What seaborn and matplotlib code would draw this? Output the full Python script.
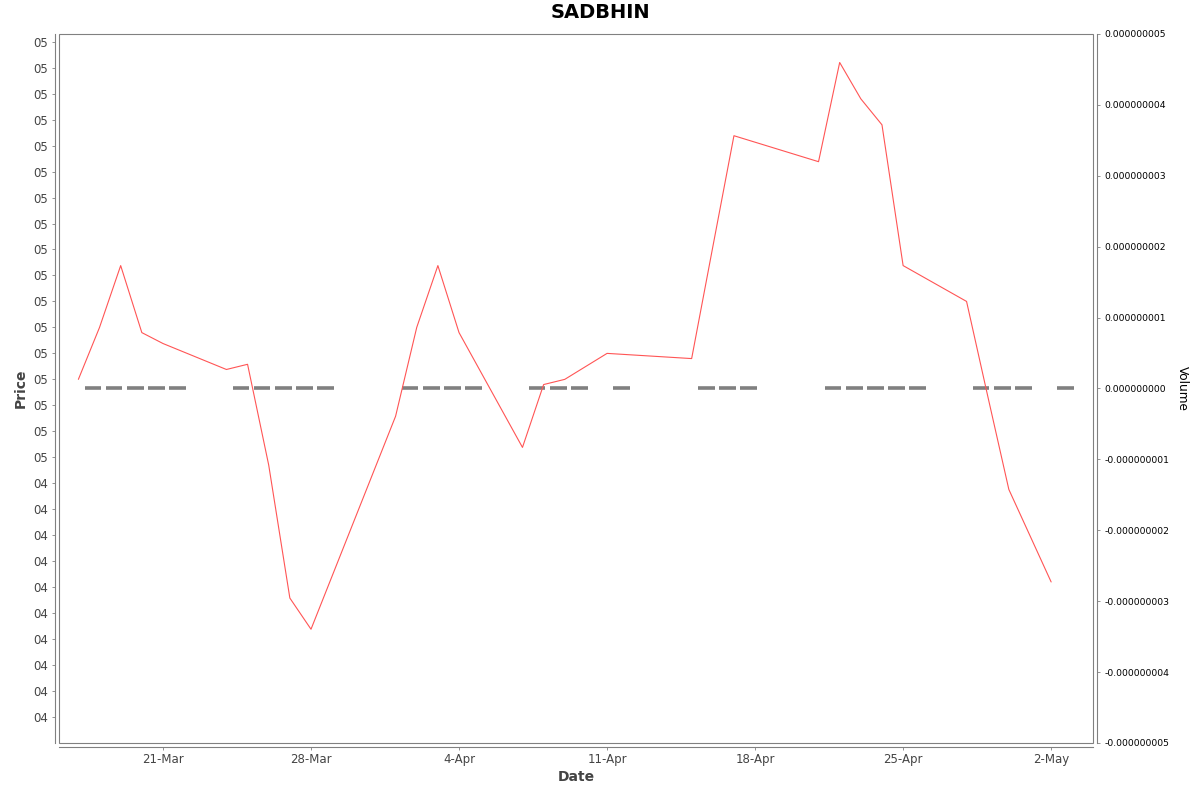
import matplotlib
matplotlib.use("Agg")
import matplotlib.pyplot as plt
import matplotlib.dates as mdates
from matplotlib.patches import Rectangle
import pandas as pd
import seaborn as sns

# trading days (2025) and closing prices
dates = ["2025-03-17", "2025-03-18", "2025-03-19", "2025-03-20", "2025-03-21",
         "2025-03-24", "2025-03-25", "2025-03-26", "2025-03-27", "2025-03-28",
         "2025-04-01", "2025-04-02", "2025-04-03", "2025-04-04", "2025-04-07",
         "2025-04-08", "2025-04-09", "2025-04-11", "2025-04-15", "2025-04-16",
         "2025-04-17", "2025-04-21", "2025-04-22", "2025-04-23", "2025-04-24",
         "2025-04-25", "2025-04-28", "2025-04-29", "2025-04-30", "2025-05-02"]
price = [0.0470, 0.0480, 0.04919, 0.0479, 0.04769,
         0.04719, 0.04729, 0.04535, 0.04279, 0.04219,
         0.04629, 0.0480, 0.04919, 0.0479, 0.04569,
         0.0469, 0.0470, 0.0475, 0.0474, 0.04955,
         0.05169, 0.05119, 0.0531, 0.0524, 0.0519,
         0.04919, 0.0485, 0.04668, 0.04488, 0.0431]
volume = [0] * len(dates)

price_ticks = [0.0405, 0.0410, 0.0415, 0.0420, 0.0425, 0.0430, 0.0435, 0.0440, 0.0445,
               0.0450, 0.0455, 0.0460, 0.0465, 0.0470, 0.0475, 0.0480, 0.0485, 0.0490,
               0.0495, 0.0500, 0.0505, 0.0510, 0.0515, 0.0520, 0.0525, 0.0530, 0.0535]
price_tick_labels = ["04"] * 10 + ["05"] * 17
volume_ticks = [-5e-9, -4e-9, -3e-9, -2e-9, -1e-9, 0, 1e-9, 2e-9, 3e-9, 4e-9, 5e-9]

df = pd.DataFrame({"Date": pd.to_datetime(dates), "Price": price, "Volume": volume})

sns.set_style("white")
plt.rcParams["font.family"] = ["DejaVu Sans"]

GRAY = "#808080"
TXT = "#444444"

fig = plt.figure(figsize=(12, 7.92), dpi=100)
ax = fig.add_axes([59 / 1200, 1 - 743 / 792, (1093 - 59) / 1200, (743 - 34) / 792])
ax2 = ax.twinx()

# volume bars (all zero -> flat dashes)
ax2.bar(df["Date"] + pd.Timedelta(hours=7), df["Volume"], width=pd.Timedelta(hours=19),
        align="edge", color=GRAY, edgecolor=GRAY, linewidth=2.6)

sns.lineplot(data=df, x="Date", y="Price", ax=ax, color="#ff5555", linewidth=0.8)

ax.set_zorder(ax2.get_zorder() + 1)
ax.patch.set_visible(False)

ax.set_xlim(pd.Timestamp("2025-03-16 02:00"), pd.Timestamp("2025-05-03 23:30"))
ax.set_ylim(0.040, 0.053648)
ax.set_yticks(price_ticks)
ax.set_yticklabels(price_tick_labels)
ax2.set_ylim(-5e-9, 5e-9)
ax2.set_yticks(volume_ticks)
ax2.set_yticklabels([f"{v:.9f}" for v in volume_ticks])

ax.xaxis.set_major_locator(mdates.WeekdayLocator(byweekday=mdates.FR))
ax.xaxis.set_major_formatter(plt.FuncFormatter(
    lambda v, p: f"{mdates.num2date(v).day}-{mdates.num2date(v):%b}"))

# outline of the plot area plus offset axis lines
ax.add_patch(Rectangle((0, 0), 1, 1, transform=ax.transAxes, fill=False,
                       edgecolor=GRAY, linewidth=0.8, clip_on=False, zorder=5))
for a in (ax, ax2):
    for s in a.spines.values():
        s.set_visible(False)
for s in ("left", "bottom"):
    ax.spines[s].set_visible(True)
    ax.spines[s].set_position(("outward", 3))
    ax.spines[s].set_color(GRAY)
    ax.spines[s].set_linewidth(0.8)
ax2.spines["right"].set_visible(True)
ax2.spines["right"].set_position(("outward", 3))
ax2.spines["right"].set_color(GRAY)
ax2.spines["right"].set_linewidth(0.8)

ax.tick_params(axis="y", left=True, length=2, width=0.6, color=GRAY, pad=3,
               labelsize=8.5, labelcolor=TXT)
ax.tick_params(axis="x", bottom=True, length=2, width=0.6, color=GRAY, pad=2,
               labelsize=8.5, labelcolor=TXT)
ax2.tick_params(axis="y", right=True, length=2, width=0.6, color=GRAY, pad=3,
                labelsize=6.7, labelcolor="black")

ax.set_xlabel("Date", fontsize=10, fontweight="bold", color=TXT, labelpad=3)
ax.set_ylabel("Price", fontsize=10, fontweight="bold", color=TXT, labelpad=4)
ax2.set_ylabel("Volume", fontsize=8.7, color="black", rotation=270, labelpad=14)

fig.text(0.5, 1 - 13 / 792, "SADBHIN", ha="center", va="center",
         fontsize=14, fontweight="bold", color="black")

fig.savefig("out.png", dpi=100)
